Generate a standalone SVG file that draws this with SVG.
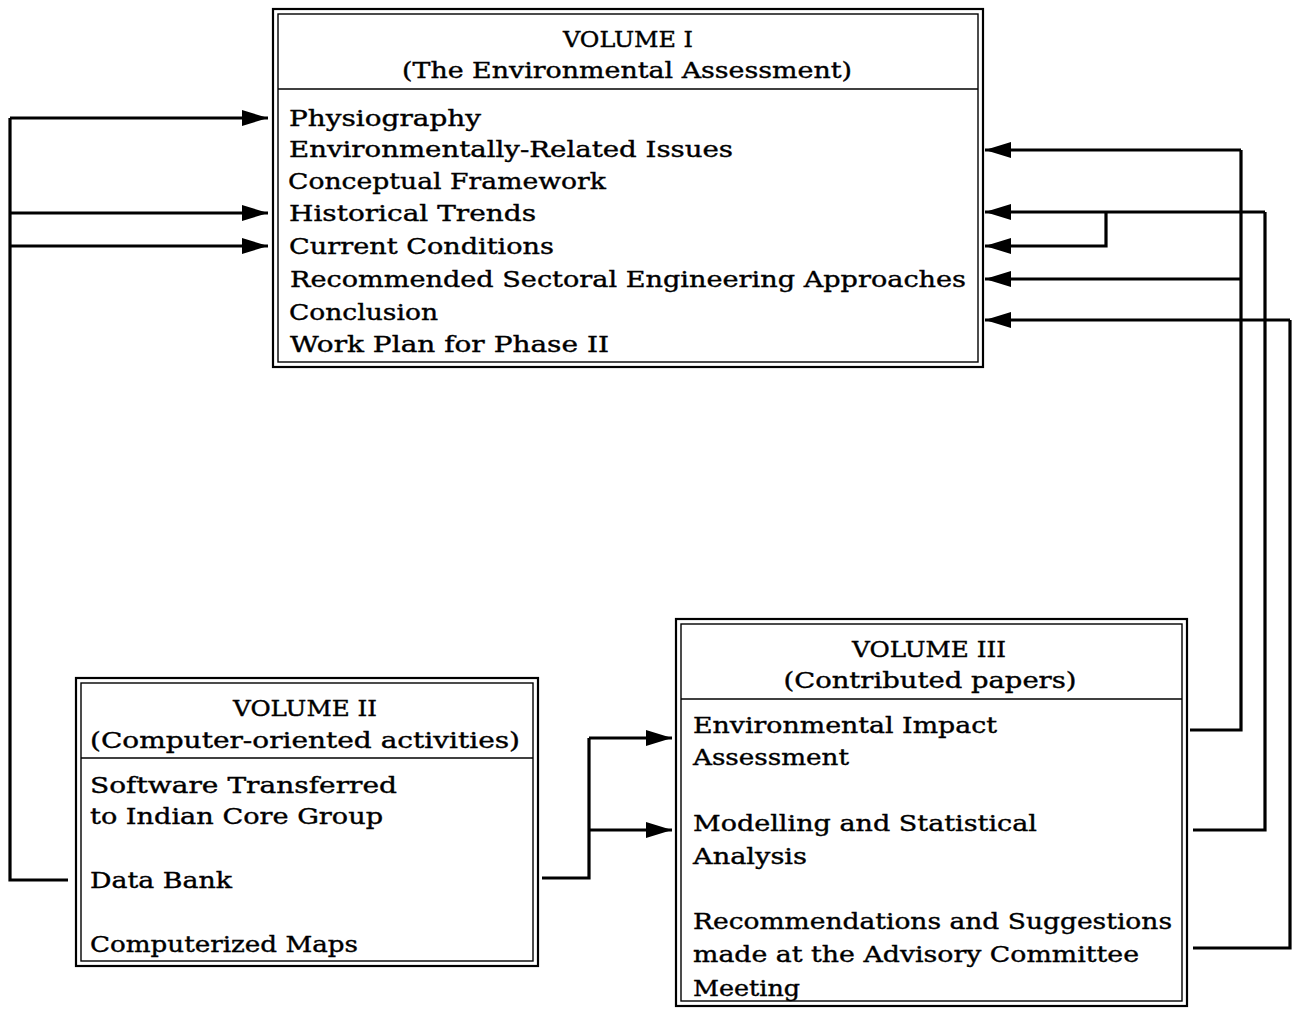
<svg xmlns="http://www.w3.org/2000/svg" width="1295" height="1009" viewBox="0 0 1295 1009">
<style>
text{font-family:"DejaVu Serif","Liberation Serif",serif;font-size:23px;fill:#000;stroke:#000;stroke-width:0.4}
.c{text-anchor:middle}
.ob{fill:none;stroke:#000;stroke-width:2.2}
.ib{fill:none;stroke:#000;stroke-width:1.4}
.dv{stroke:#000;stroke-width:1.6}
.ln{fill:none;stroke:#000;stroke-width:3.2;stroke-linejoin:miter}
.ar{fill:none;stroke:#000;stroke-width:3.2;marker-end:url(#ah)}
</style>
<defs>
<marker id="ah" markerUnits="userSpaceOnUse" markerWidth="28" markerHeight="16" refX="26" refY="8" orient="auto">
<path d="M0,0 L26,8 L0,16 z" fill="#000"/>
</marker>
</defs>
<rect width="1295" height="1009" fill="#fff"/>
<g id="volume1">
<rect class="ob" x="273" y="9" width="710" height="358"/>
<rect class="ib" x="278" y="14" width="700" height="348"/>
<line class="dv" x1="278" y1="89" x2="978" y2="89"/>
<text class="c" x="628" y="47" textLength="130" lengthAdjust="spacingAndGlyphs">VOLUME I</text>
<text class="c" x="627" y="78" textLength="450" lengthAdjust="spacingAndGlyphs">(The Environmental Assessment)</text>
<text x="289" y="126" textLength="192" lengthAdjust="spacingAndGlyphs">Physiography</text>
<text x="289" y="157" textLength="444" lengthAdjust="spacingAndGlyphs">Environmentally-Related Issues</text>
<text x="288" y="189" textLength="318" lengthAdjust="spacingAndGlyphs">Conceptual Framework</text>
<text x="289" y="221" textLength="247" lengthAdjust="spacingAndGlyphs">Historical Trends</text>
<text x="289" y="254" textLength="265" lengthAdjust="spacingAndGlyphs">Current Conditions</text>
<text x="290" y="287" textLength="676" lengthAdjust="spacingAndGlyphs">Recommended Sectoral Engineering Approaches</text>
<text x="289" y="320" textLength="149" lengthAdjust="spacingAndGlyphs">Conclusion</text>
<text x="290" y="352" textLength="319" lengthAdjust="spacingAndGlyphs">Work Plan for Phase II</text>
</g>
<g id="volume2">
<rect class="ob" x="76" y="678" width="462" height="288"/>
<rect class="ib" x="81" y="683" width="452" height="278"/>
<line class="dv" x1="81" y1="758" x2="533" y2="758"/>
<text class="c" x="305" y="716" textLength="144" lengthAdjust="spacingAndGlyphs">VOLUME II</text>
<text class="c" x="305" y="748" textLength="430" lengthAdjust="spacingAndGlyphs">(Computer-oriented activities)</text>
<text x="90" y="793" textLength="307" lengthAdjust="spacingAndGlyphs">Software Transferred</text>
<text x="90" y="824" textLength="293" lengthAdjust="spacingAndGlyphs">to Indian Core Group</text>
<text x="90" y="888" textLength="142" lengthAdjust="spacingAndGlyphs">Data Bank</text>
<text x="90" y="952" textLength="268" lengthAdjust="spacingAndGlyphs">Computerized Maps</text>
</g>
<g id="volume3">
<rect class="ob" x="676" y="619" width="511" height="387"/>
<rect class="ib" x="681" y="624" width="501" height="377"/>
<line class="dv" x1="681" y1="699" x2="1182" y2="699"/>
<text class="c" x="929" y="657" textLength="154" lengthAdjust="spacingAndGlyphs">VOLUME III</text>
<text class="c" x="930" y="688" textLength="293" lengthAdjust="spacingAndGlyphs">(Contributed papers)</text>
<text x="693" y="733" textLength="304" lengthAdjust="spacingAndGlyphs">Environmental Impact</text>
<text x="693" y="765" textLength="156" lengthAdjust="spacingAndGlyphs">Assessment</text>
<text x="693" y="831" textLength="344" lengthAdjust="spacingAndGlyphs">Modelling and Statistical</text>
<text x="693" y="864" textLength="114" lengthAdjust="spacingAndGlyphs">Analysis</text>
<text x="693" y="929" textLength="479" lengthAdjust="spacingAndGlyphs">Recommendations and Suggestions</text>
<text x="693" y="962" textLength="446" lengthAdjust="spacingAndGlyphs">made at the Advisory Committee</text>
<text x="693" y="996" textLength="107" lengthAdjust="spacingAndGlyphs">Meeting</text>
</g>
<g id="connectors">
<path class="ln" d="M68,880 H10 V118"/>
<path class="ar" d="M10,118 H268"/>
<path class="ar" d="M10,213 H268"/>
<path class="ar" d="M10,246 H268"/>
<path class="ln" d="M542,878 H589 V738"/>
<path class="ar" d="M589,738 H672"/>
<path class="ar" d="M589,830 H672"/>
<path class="ln" d="M1190,730 H1241 V150"/>
<path class="ar" d="M1241,150 H985"/>
<path class="ar" d="M1241,279 H985"/>
<path class="ln" d="M1193,830 H1265 V212"/>
<path class="ar" d="M1265,212 H985"/>
<path class="ar" d="M1106,212 V246 H985"/>
<path class="ln" d="M1193,948 H1290 V320"/>
<path class="ar" d="M1290,320 H985"/>
</g>
</svg>
